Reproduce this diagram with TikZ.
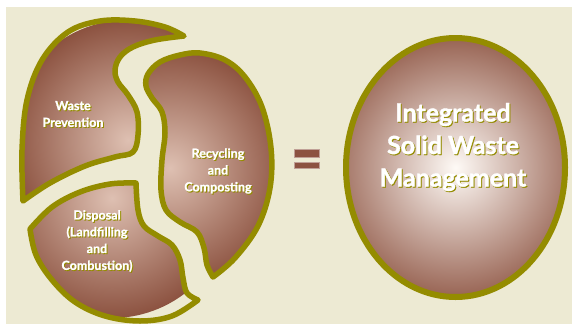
\documentclass[tikz,border=0pt]{standalone}
\usepackage{fontspec}
\setmainfont{Lato}[BoldFeatures={FakeBold=1.6}]
\usetikzlibrary{positioning,shapes.geometric}

\definecolor{panel}{RGB}{237,234,211}
\definecolor{rust}{RGB}{140,82,64}
\definecolor{glow}{RGB}{254,250,246}
\definecolor{blush}{RGB}{222,192,178}
\definecolor{rim}{RGB}{148,140,0}

% the three pieces of the left shape
\def\wastepath{plot[smooth,tension=.6] coordinates {(184,36) (165,27) (135,21) (100,21) (68,32) (42,60) (27,100) (22,150) (23,201)}
  -- plot[smooth,tension=.6] coordinates {(23,201) (50,183) (85,166) (115,157) (133,152) (138,135) (137,112) (128,95) (118,82) (115,70) (120,57) (133,47) (155,40) (184,36)} -- cycle}
\def\recyclepath{plot[smooth,tension=.6] coordinates {(213,277) (207,265) (204,248) (197,232) (180,222) (166,210) (161,190) (162,160) (165,133) (162,112) (152,98) (146,86) (148,74) (160,62) (180,55) (200,53) (225,60) (245,77) (262,107) (271,148) (270,188) (258,226) (235,258) (213,277)} -- cycle}
\def\disposalpath{plot[smooth,tension=.6] coordinates {(136,183) (110,184) (80,192) (52,207) (30,229)}
  -- plot[smooth,tension=.6] coordinates {(30,229) (36,255) (52,280) (75,302) (105,316) (140,321) (172,316) (198,300)}
  -- plot[smooth,tension=.6] coordinates {(198,300) (187,293) (183,278) (180,260) (172,245) (158,236) (144,226) (138,210) (136,183)} -- cycle}

% shaded piece: path, centre of the light spot
\newcommand{\piece}[2]{%
  \begin{scope}
    \clip #1;
    \shade[inner color=blush,outer color=rust] (#2) circle (120pt);
  \end{scope}
  \draw[rimline] #1;}

% white text with an olive drop shadow
\newcommand{\etched}[4][tag]{%
  \node[#1,text=rim,xshift=1pt,yshift=-1pt] at (#3) {#4};
  \node[#1] (#2) at (#3) {#4};}

\begin{document}
\begin{tikzpicture}[x=1pt,y=-1pt]
    \tikzset{
      rimline/.style={draw=rim,line width=5.5pt,line join=round},
      tag/.style={text=white,font=\bfseries\fontsize{12.5}{16.8}\selectfont,align=center,inner sep=0pt},
      bigtag/.style={text=white,font=\bfseries\fontsize{25}{32.5}\selectfont,align=center,inner sep=0pt},
      bar/.style={fill=rust,draw=rust!55!white,line width=.6pt}
    }
    \useasboundingbox (0,0) rectangle (575,327);
    \fill[white] (0,0) rectangle (575,327);
    \fill[panel] (6,7) rectangle (572,324);

    \piece{\wastepath}{128,140}
    \piece{\recyclepath}{170,168}
    \piece{\disposalpath}{112,198}

    \etched{waste}{73,114}{Waste\\Prevention}
    \etched{recycle}{218,171}{Recycling\\and\\Composting}
    \etched{disposal}{97,241}{Disposal\\(Landfilling\\and\\Combustion)}

    % equals sign
    \draw[bar] (294,149) rectangle (319,157);
    \draw[bar] (294,162) rectangle (319,168);

    \node[ellipse,draw=rim,line width=6pt,minimum width=219pt,minimum height=259pt,inner sep=0pt,
          path picture={\shade[inner color=glow,outer color=rust] (path picture bounding box.center) circle (145pt);}]
          (iswm) at (455.5,167.5) {};
    \etched[bigtag]{iswmtext}{453,147}{Integrated\\Solid Waste\\Management}
\end{tikzpicture}
\end{document}
